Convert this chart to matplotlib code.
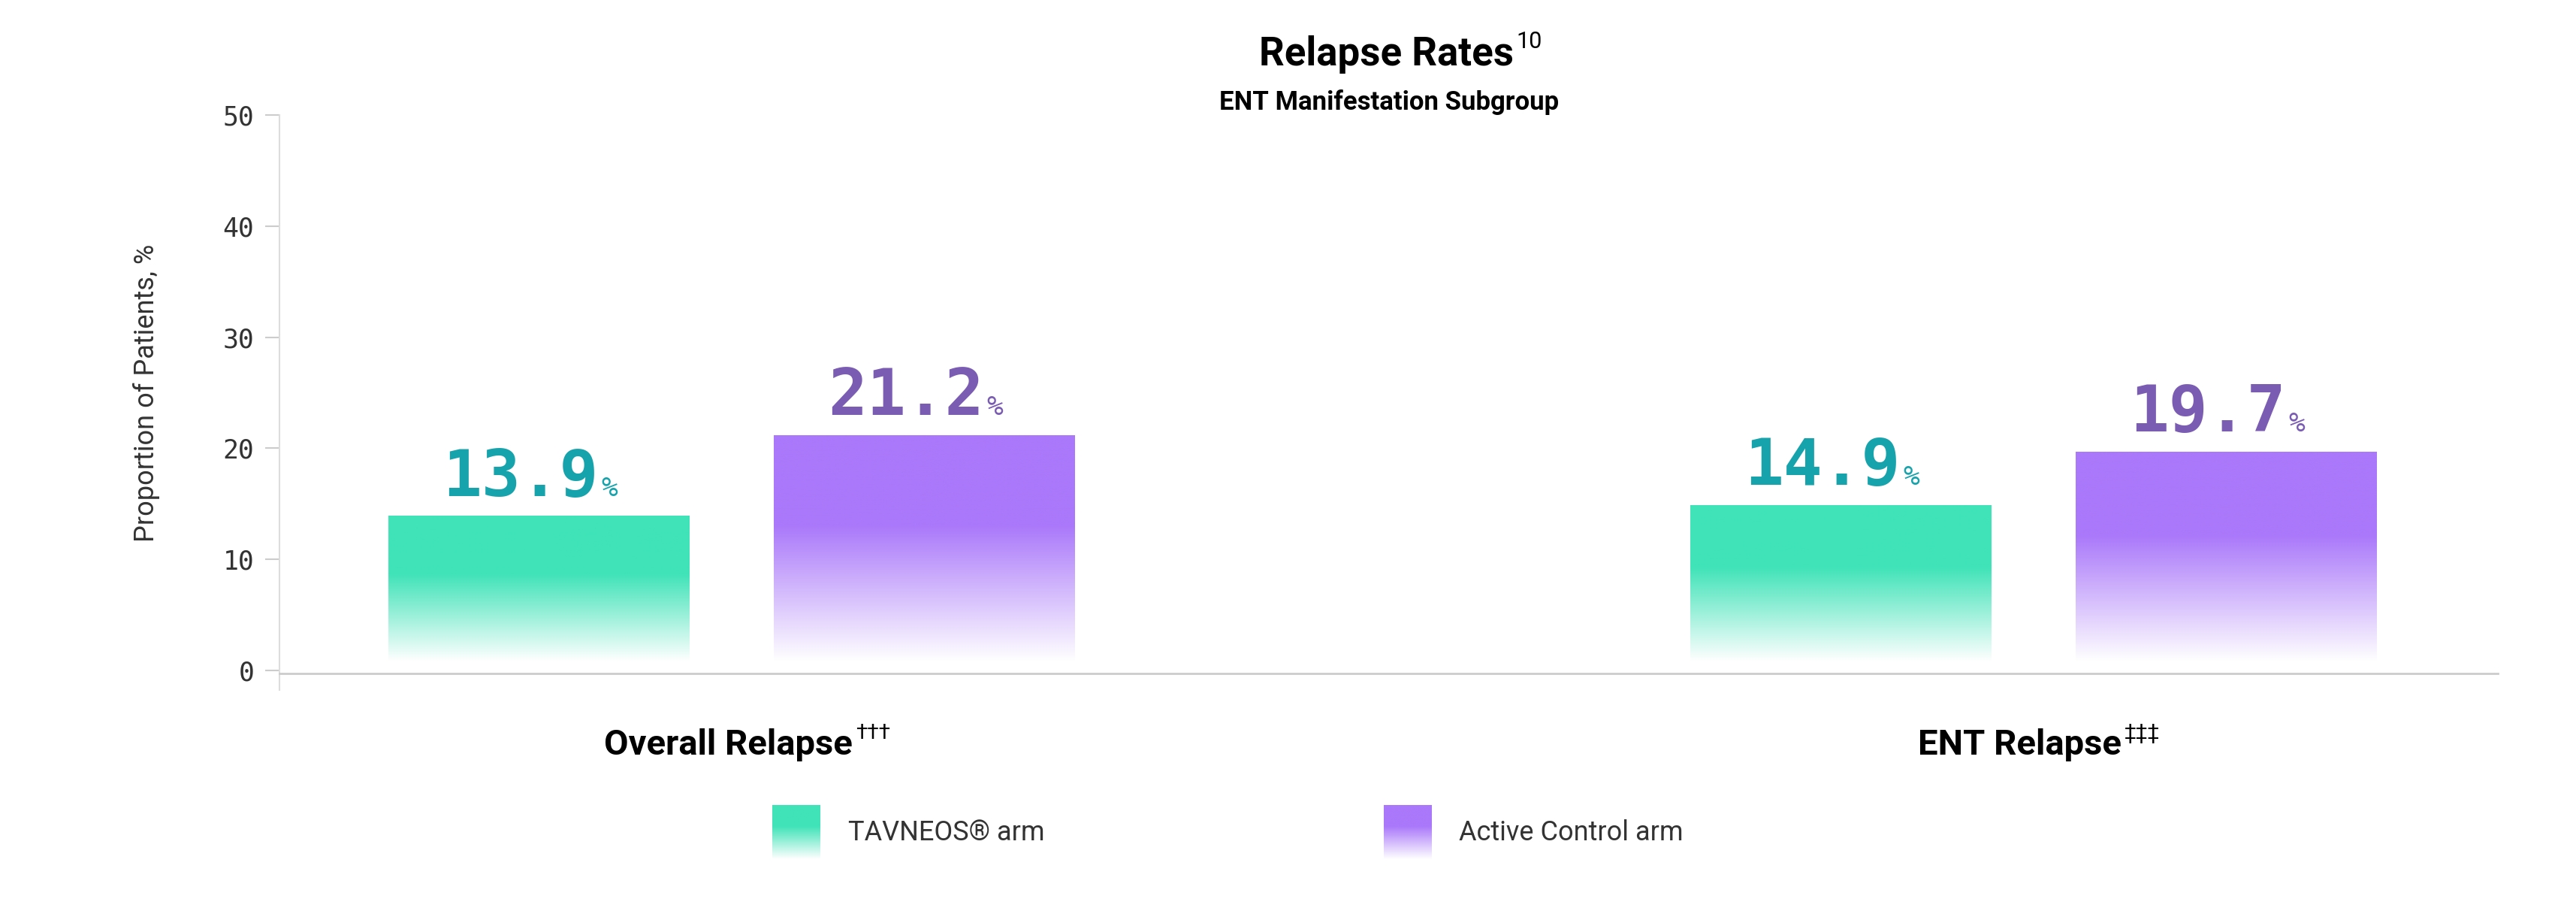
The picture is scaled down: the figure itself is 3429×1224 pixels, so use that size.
import matplotlib
matplotlib.use("Agg")
import matplotlib.pyplot as plt
import numpy as np
from matplotlib.colors import LinearSegmentedColormap
from matplotlib.patches import Rectangle

categories = ["Overall Relapse", "ENT Relapse"]
cat_sups = ["†††", "‡‡‡"]
series_names = ["TAVNEOS® arm", "Active Control arm"]
tavneos = [13.9, 14.9]
control = [21.2, 19.7]
yticks = [0, 10, 20, 30, 40, 50]

teal = "#40E3B8"; purple = "#AA78FA"
teal_txt = "#17A3AC"; purple_txt = "#7A5CB3"
SANS = ["Roboto", "DejaVu Sans"]
MONO = ["DejaVu Sans Mono"]

fig = plt.figure(figsize=(34.3, 12.24), dpi=100)
ax = fig.add_axes([0.1084, 0.2714, 0.861, 0.6036])
ax.set_xlim(-0.347, 1.357)
ax.set_ylim(0, 50)

def grad_cmap(c):
    return LinearSegmentedColormap.from_list("g", [(0, "#ffffff"), (0.6, c), (1, c)])

w = 0.231; off = 0.148
for vals, sign, col, tcol in [(tavneos, -1, teal, teal_txt), (control, 1, purple, purple_txt)]:
    cm = grad_cmap(col)
    for i, v in enumerate(vals):
        xc = i + sign * off
        grad = np.linspace(0, 1, 256).reshape(-1, 1)
        im = ax.imshow(grad, cmap=cm, origin="lower", aspect="auto",
                       extent=(xc - w / 2, xc + w / 2, 0.8, v), zorder=2)
        rect = Rectangle((xc - w / 2, 0.8), w, v - 0.8, transform=ax.transData, visible=False)
        ax.add_patch(rect)
        im.set_clip_path(rect)
        ax.text(xc + 0.046, v + 1.8, f"{v:.1f}", ha="right", va="baseline",
                fontsize=62, color=tcol, family=MONO, fontweight="bold")
        ax.text(xc + 0.048, v + 1.8, "%", ha="left", va="baseline",
                fontsize=26, color=tcol, family=MONO)

ax.set_xticks([])
ax.set_yticks(yticks)
ax.set_yticklabels([str(t) for t in yticks], family=MONO, fontsize=25, color="#333333")
ax.tick_params(axis="y", length=14, width=1.5, color="#cccccc", pad=10)
for s in ["top", "right"]:
    ax.spines[s].set_visible(False)
ax.spines["left"].set_color("#dddddd"); ax.spines["left"].set_linewidth(1.5)
ax.spines["left"].set_bounds(-1.8, 50)
ax.spines["bottom"].set_color("#cccccc"); ax.spines["bottom"].set_linewidth(2)
ax.spines["bottom"].set_position(("data", -0.3))
ax.set_ylabel("Proportion of Patients, %", family=SANS, fontsize=26, color="#333333", labelpad=60)

fig.text(0.5874, 0.941, "Relapse Rates", ha="right", va="center", fontsize=38, fontweight="bold", family=SANS)
fig.text(0.5884, 0.955, "10", ha="left", va="center", fontsize=22, family=SANS)
fig.text(0.539, 0.889, "ENT Manifestation Subgroup", ha="center", va="center", fontsize=25, fontweight="bold", family=SANS)

for xr, lab, sup in [(519 / 1568, categories[0], cat_sups[0]), (1291 / 1568, categories[1], cat_sups[1])]:
    fig.text(xr, 0.190, lab, ha="right", va="center", fontsize=34, fontweight="bold", family=SANS)
    fig.text(xr + 0.001, 0.203, sup, ha="left", va="center", fontsize=20, family=SANS)

for x0, col, name in [(470, teal, series_names[0]), (842, purple, series_names[1])]:
    lax = fig.add_axes([x0 / 1568, 1 - 523 / 560, 29 / 1568, 33 / 560])
    lax.imshow(np.linspace(0, 1, 256).reshape(-1, 1), cmap=grad_cmap(col), origin="lower", aspect="auto")
    lax.axis("off")
    fig.text((x0 + 46) / 1568, 1 - 507 / 560, name, ha="left", va="center", fontsize=26, family=SANS, color="#333333")

fig.savefig("out.png", dpi=100, facecolor="white")
